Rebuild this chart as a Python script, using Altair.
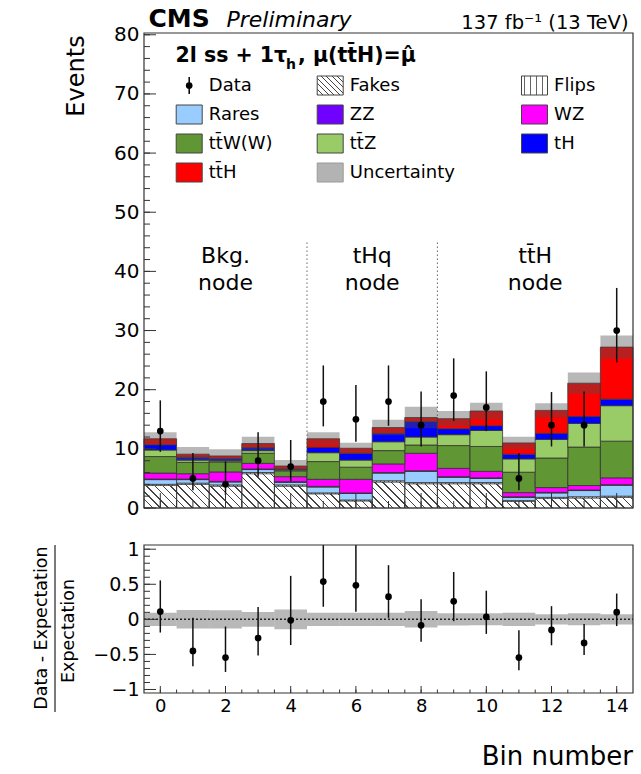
import altair as alt
import numpy as np
import pandas as pd

FONT = "DejaVu Sans"

# ---------------- bin contents (events) ----------------
bins = list(range(15))

fakes = [3.8, 4.0, 3.7, 5.8, 3.7, 2.4, 1.2, 4.4, 4.1, 4.1, 4.1, 1.1, 1.6, 1.7, 1.8]
flips = [0.2, 0.2, 0.2, 0.2, 0.2, 0.15, 0.15, 0.2, 0.2, 0.2, 0.2, 0.15, 0.2, 0.2, 0.2]
rares = [0.8, 0.6, 0.5, 0.5, 0.45, 1.0, 1.1, 1.3, 1.9, 0.9, 0.7, 0.55, 0.75, 1.05, 1.85]
zz = [0.1, 0.1, 0.1, 0.1, 0.1, 0.1, 0.1, 0.1, 0.1, 0.1, 0.1, 0.1, 0.1, 0.1, 0.1]
wz = [1.0, 0.9, 1.6, 0.95, 0.85, 1.2, 2.3, 1.45, 2.95, 1.4, 1.1, 0.7, 0.8, 0.75, 1.15]
ttw = [2.8, 1.9, 1.7, 1.7, 1.0, 3.0, 2.05, 2.25, 1.4, 3.85, 4.2, 3.45, 5.0, 6.5, 6.2]
ttz = [1.1, 0.4, 0.2, 0.45, 0.15, 1.5, 1.2, 1.5, 1.35, 1.85, 2.7, 2.25, 3.15, 4.0, 6.0]
th = [0.9, 0.5, 0.35, 0.5, 0.15, 0.9, 1.15, 1.4, 2.6, 1.0, 0.8, 0.8, 1.0, 1.15, 1.1]
tth = [1.0, 0.5, 0.45, 0.7, 0.5, 1.45, 0.85, 1.0, 0.7, 1.7, 2.5, 1.9, 3.9, 5.65, 8.8]
unc = [1.1, 1.2, 1.15, 1.15, 1.0, 1.1, 0.95, 1.3, 1.8, 1.3, 1.4, 1.05, 1.2, 1.8, 1.95]

data = [13, 5, 4, 8, 7, 18, 15, 18, 14, 19, 17, 5, 14, 14, 30]
data_lo = [9.5, 3.0, 2.2, 5.3, 4.5, 13.8, 11.2, 13.9, 10.4, 14.7, 13.0, 3.0, 10.4, 10.4, 24.6]
data_hi = [18.2, 9.3, 7.9, 12.8, 11.5, 24.1, 20.8, 24.1, 19.7, 25.3, 23.1, 9.3, 19.6, 19.7, 37.2]

node_labels = [["Bkg.", "node"], ["tHq", "node"], ["tt\u0304H", "node"]]
node_sizes = [5, 4, 6]

legend_labels = ["Data", "Fakes", "Flips", "Rares", "ZZ", "WZ",
                 "tt\u0304W(W)", "tt\u0304Z", "tH", "tt\u0304H", "Uncertainty"]
proc_labels = legend_labels[3:10]
proc_colors = ["#99ccff", "#7000ff", "#ff00ff", "#609634", "#99cc66", "#0000ff", "#ff0000"]
unc_color = "#b3b3b3"

# axis tick positions
main_y_major = list(range(0, 81, 10))
main_y_minor = list(range(0, 81, 2))
x_major = list(range(0, 15, 2))
x_minor = [i * 0.5 for i in range(29)]
ratio_y_major = [-1, -0.5, 0, 0.5, 1]
ratio_y_minor = [round(-1 + 0.1 * i, 2) for i in range(21)]

# ---------------- geometry ----------------
W, H, H2 = 489, 475, 148
PL, PT = 143.5, 33
YMAX = 80.3
RLO, RHI = -1.05, 1.06
PXU = H / YMAX
LINE = "#333333"


def stripes(w, h, spacing, frac, ink, vertical=False):
    """Linear gradient with hard stops that renders as a line hatch."""
    if vertical:
        x1, y1, x2, y2 = 0, 0, 1, 0
        n = w / spacing
    else:
        r = h / w
        k = (1 + r) / (1 + r * r)
        x1, y1, x2, y2 = 0, 1, k, 1 - k * r
        n = (w + h) / spacing
    p = 1.0 / n
    stops = []
    a = 0.0
    while a < 1 - 1e-9:
        b = min(a + frac * p, 1.0)
        c = min(a + p, 1.0)
        stops += [{"offset": round(a, 5), "color": ink},
                  {"offset": round(b, 5), "color": ink},
                  {"offset": round(b, 5), "color": "#ffffff"},
                  {"offset": round(c, 5), "color": "#ffffff"}]
        a += p
    return {"gradient": "linear", "x1": x1, "y1": y1, "x2": x2, "y2": y2, "stops": stops}


def xticks_in(values, length, scale, h):
    """Tick marks on the bottom edge, pointing into the frame."""
    df = pd.DataFrame(dict(v=values))
    return alt.Chart(df).mark_rule(color=LINE, strokeWidth=1).encode(
        x=alt.X("v:Q", scale=scale, axis=None),
        y=alt.value(h), y2=alt.value(h - length))


def yticks_in(values, length, scale):
    """Tick marks on the left edge, pointing into the frame."""
    df = pd.DataFrame(dict(v=values))
    return alt.Chart(df).mark_rule(color=LINE, strokeWidth=1).encode(
        y=alt.Y("v:Q", scale=scale, axis=None),
        x=alt.value(0), x2=alt.value(length))


# ---------------- tables ----------------
comp_names = ["Fakes", "Flips"] + proc_labels
arr = np.array([fakes, flips, rares, zz, wz, ttw, ttz, th, tth])
top = np.cumsum(arr, axis=0)
low = top - arr
rows = []
for i, name in enumerate(comp_names):
    for b in bins:
        rows.append(dict(proc=name, x0=b - 0.5, x1=b + 0.5, low=low[i, b], high=top[i, b]))
stack = pd.DataFrame(rows)
total = top[-1]

bd = pd.DataFrame(dict(bin=bins, data=data, lo=data_lo, hi=data_hi, total=total, unc=unc))
bd["x0"] = bd["bin"] - 0.5
bd["x1"] = bd["bin"] + 0.5
bd["blo"] = bd["total"] - bd["unc"]
bd["bhi"] = bd["total"] + bd["unc"]
bd["r"] = bd["data"] / bd["total"] - 1
bd["rlo"] = bd["lo"] / bd["total"] - 1
bd["rhi"] = bd["hi"] / bd["total"] - 1
bd["rb"] = bd["unc"] / bd["total"]
bd["rbn"] = -bd["rb"]

edges = np.cumsum(node_sizes)[:-1] - 0.5
sep = pd.DataFrame(dict(x=edges, y0=0, y1=45))
starts = np.concatenate([[0], np.cumsum(node_sizes)[:-1]])
centers = starts + (np.array(node_sizes) - 1) / 2
node_rows = []
for c, lines in zip(centers, node_labels):
    for j, t in enumerate(lines):
        node_rows.append(dict(x=c, y=41.5 - 4.6 * j, t=t))
nodes = pd.DataFrame(node_rows)

hatch_df = pd.DataFrame(dict(x0=[-0.5], x1=[14.5], y0=[0], y1=[max(fakes)]))
hatch_fill = stripes(W, max(fakes) * PXU, 8, 0.2, "#444444")
flips_fill = stripes(W / 15, 2, 4, 0.25, "#555555", vertical=True)

xs = alt.Scale(domain=[-0.5, 14.5], nice=False, zero=False)
ys = alt.Scale(domain=[0, YMAX], nice=False, zero=False)
rs = alt.Scale(domain=[RLO, RHI], nice=False, zero=False)

# ---------------- main panel ----------------
y_labels_main = alt.Axis(orient="left", values=main_y_major, ticks=False, domain=False,
                         grid=False, labelFont=FONT, labelFontSize=20, labelPadding=5,
                         labelColor="black", title=None)

hatch = alt.Chart(hatch_df).mark_rect(fill=hatch_fill, strokeWidth=0).encode(
    x=alt.X("x0:Q", scale=xs, axis=None), x2="x1:Q",
    y=alt.Y("y0:Q", scale=ys, axis=y_labels_main), y2="y1:Q")

seps = alt.Chart(sep).mark_rule(color="#666666", strokeWidth=1, strokeDash=[1.5, 2.5]).encode(
    x=alt.X("x:Q", scale=xs, axis=None),
    y=alt.Y("y0:Q", scale=ys, axis=None), y2="y1:Q")

fake_outline = alt.Chart(stack[stack.proc == "Fakes"]).mark_rect(
    fill="#ffffff", fillOpacity=0, stroke=LINE, strokeWidth=0.8).encode(
    x=alt.X("x0:Q", scale=xs, axis=None), x2="x1:Q",
    y=alt.Y("low:Q", scale=ys, axis=None), y2="high:Q")

flip_rects = alt.Chart(stack[stack.proc == "Flips"]).mark_rect(
    fill=flips_fill, stroke=LINE, strokeWidth=0.6).encode(
    x=alt.X("x0:Q", scale=xs, axis=None), x2="x1:Q",
    y=alt.Y("low:Q", scale=ys, axis=None), y2="high:Q")

procs = alt.Chart(stack[stack.proc.isin(proc_labels)]).mark_rect(
    stroke=LINE, strokeWidth=0.8).encode(
    x=alt.X("x0:Q", scale=xs, axis=None), x2="x1:Q",
    y=alt.Y("low:Q", scale=ys, axis=None), y2="high:Q",
    color=alt.Color("proc:N", scale=alt.Scale(domain=proc_labels, range=proc_colors), legend=None))

band = alt.Chart(bd).mark_rect(color="#4d4d4d", opacity=0.4).encode(
    x=alt.X("x0:Q", scale=xs, axis=None), x2="x1:Q",
    y=alt.Y("blo:Q", scale=ys, axis=None), y2="bhi:Q")

bars = alt.Chart(bd).mark_rule(color="#111111", strokeWidth=1.5).encode(
    x=alt.X("bin:Q", scale=xs, axis=None),
    y=alt.Y("lo:Q", scale=ys, axis=None), y2="hi:Q")

pts = alt.Chart(bd).mark_circle(color="black", size=45, opacity=1).encode(
    x=alt.X("bin:Q", scale=xs, axis=None),
    y=alt.Y("data:Q", scale=ys, axis=None))

node_text = alt.Chart(nodes).mark_text(font=FONT, fontSize=22, color="black",
                                       align="center", baseline="alphabetic").encode(
    x=alt.X("x:Q", scale=xs, axis=None),
    y=alt.Y("y:Q", scale=ys, axis=None), text="t:N")

plot_main = alt.layer(
    seps, hatch, fake_outline, flip_rects, procs, band, bars, pts, node_text,
    xticks_in(x_minor, 7, xs, H), xticks_in(x_major, 15, xs, H),
    yticks_in(main_y_minor, 6, ys), yticks_in(main_y_major, 12, ys),
).resolve_axis(x="independent", y="independent")


# ---------------- pixel-space overlays ----------------
def pix_scales(h):
    return (alt.Scale(domain=[0, W], nice=False, zero=False),
            alt.Scale(domain=[0, h], nice=False, zero=False, reverse=True))


def ptext(rows, h, **kw):
    sx, sy = pix_scales(h)
    df = pd.DataFrame(rows, columns=["x", "y", "t"])
    opts = dict(font=FONT, color="black")
    opts.update(kw)
    return alt.Chart(df).mark_text(**opts).encode(
        x=alt.X("x:Q", scale=sx, axis=None),
        y=alt.Y("y:Q", scale=sy, axis=None), text="t:N")


def prule(x, y, x2, y2, h, **kw):
    sx, sy = pix_scales(h)
    df = pd.DataFrame(dict(x=[x], y=[y], x2=[x2], y2=[y2]))
    return alt.Chart(df).mark_rule(**kw).encode(
        x=alt.X("x:Q", scale=sx, axis=None), x2="x2:Q",
        y=alt.Y("y:Q", scale=sy, axis=None), y2="y2:Q")


def pframe(h):
    sx, sy = pix_scales(h)
    df = pd.DataFrame(dict(x=[0], y=[0], x2=[W], y2=[h]))
    return alt.Chart(df).mark_rect(fill="#ffffff", fillOpacity=0, stroke=LINE,
                                   strokeWidth=1.2).encode(
        x=alt.X("x:Q", scale=sx, axis=None), x2="x2:Q",
        y=alt.Y("y:Q", scale=sy, axis=None), y2="y2:Q")


# legend grid
box_x = [32.2, 173.2, 377.5]
row_y = [52.5, 81.5, 110.5, 139.5]
BW, BH = 26, 19
leg = pd.DataFrame(dict(t=legend_labels))
leg["col"] = leg.index % 3
leg["row"] = leg.index // 3
leg["bx"] = [box_x[c] for c in leg["col"]]
leg["by"] = [row_y[r] for r in leg["row"]]
leg["bx2"] = leg["bx"] + BW
leg["by0"] = leg["by"] - BH / 2
leg["by1"] = leg["by"] + BH / 2
leg["tx"] = leg["bx"] + 32.6

sxm, sym = pix_scales(H)
solid = leg[leg.t.isin(proc_labels)]
leg_boxes = alt.Chart(solid).mark_rect(stroke="#444444", strokeWidth=1).encode(
    x=alt.X("bx:Q", scale=sxm, axis=None), x2="bx2:Q",
    y=alt.Y("by0:Q", scale=sym, axis=None), y2="by1:Q",
    color=alt.Color("t:N", scale=alt.Scale(domain=proc_labels, range=proc_colors), legend=None))
unc_box = alt.Chart(leg[leg.t == "Uncertainty"]).mark_rect(
    color=unc_color, stroke="#9a9a9a", strokeWidth=1).encode(
    x=alt.X("bx:Q", scale=sxm, axis=None), x2="bx2:Q",
    y=alt.Y("by0:Q", scale=sym, axis=None), y2="by1:Q")
fake_box = alt.Chart(leg[leg.t == "Fakes"]).mark_rect(
    fill=stripes(BW, BH, 5.5, 0.2, "#444444"), stroke="#444444", strokeWidth=1).encode(
    x=alt.X("bx:Q", scale=sxm, axis=None), x2="bx2:Q",
    y=alt.Y("by0:Q", scale=sym, axis=None), y2="by1:Q")
flip_box = alt.Chart(leg[leg.t == "Flips"]).mark_rect(
    fill=stripes(BW, BH, 3, 0.3, "#666666", vertical=True), stroke="#444444", strokeWidth=1).encode(
    x=alt.X("bx:Q", scale=sxm, axis=None), x2="bx2:Q",
    y=alt.Y("by0:Q", scale=sym, axis=None), y2="by1:Q")
dat = leg[leg.t == "Data"].copy()
dat["cx"] = dat["bx"] + BW / 2
dat["ey0"] = dat["by"] - 8.5
dat["ey1"] = dat["by"] + 8.5
dat_bar = alt.Chart(dat).mark_rule(color="black", strokeWidth=1.5).encode(
    x=alt.X("cx:Q", scale=sxm, axis=None),
    y=alt.Y("ey0:Q", scale=sym, axis=None), y2="ey1:Q")
dat_pt = alt.Chart(dat).mark_circle(color="black", size=45, opacity=1).encode(
    x=alt.X("cx:Q", scale=sxm, axis=None),
    y=alt.Y("by:Q", scale=sym, axis=None))
leg_text = alt.Chart(leg).mark_text(font=FONT, fontSize=18, color="black",
                                    align="left", baseline="middle").encode(
    x=alt.X("tx:Q", scale=sxm, axis=None),
    y=alt.Y("by:Q", scale=sym, axis=None), text="t:N")

anchor = prule(-PL, -PT, -PL + 1, -PT, H, opacity=0)

overlay_main = alt.layer(
    anchor,
    pframe(H),
    ptext([[4.5, -6, "CMS"]], H, fontSize=25, fontWeight="bold", align="left", baseline="alphabetic"),
    ptext([[82.5, -6, "Preliminary"]], H, fontSize=22, fontStyle="italic", align="left",
          baseline="alphabetic"),
    ptext([[484.5, -4, "137 fb\u207b\u00b9 (13 TeV)"]], H, fontSize=19.5, align="right",
          baseline="alphabetic"),
    ptext([[31.5, 28.7, "2l ss + 1\u03c4"]], H, fontSize=20.5, fontWeight="bold", align="left",
          baseline="alphabetic"),
    ptext([[142, 35.5, "h"]], H, fontSize=14, fontWeight="bold", align="left", baseline="alphabetic"),
    ptext([[154, 28.7, ",  \u03bc(tt\u0304H)=\u03bc\u0302"]], H, fontSize=20.5, fontWeight="bold",
          align="left", baseline="alphabetic"),
    ptext([[-67.5, 43, "Events"]], H, fontSize=24, angle=270, align="center", baseline="middle"),
    leg_boxes, unc_box, fake_box, flip_box, dat_bar, dat_pt, leg_text,
)

main = alt.layer(plot_main, overlay_main).resolve_scale(
    x="independent", y="independent").properties(width=W, height=H)

# ---------------- ratio panel ----------------
y_labels_r = alt.Axis(orient="left", values=ratio_y_major, format="~g", ticks=False,
                      domain=False, grid=False, labelFont=FONT, labelFontSize=19,
                      labelPadding=5, labelColor="black", title=None)
x_labels_r = alt.Axis(orient="bottom", values=x_major, ticks=False, domain=False,
                      grid=False, labelFont=FONT, labelFontSize=18, labelPadding=4,
                      labelColor="black", labelFlush=False, labelOverlap=False, title=None)

zero_df = pd.DataFrame(dict(x0=[-0.5], x1=[14.5], y=[0]))
r_band = alt.Chart(bd).mark_rect(color="#4d4d4d", opacity=0.4).encode(
    x=alt.X("x0:Q", scale=xs, axis=x_labels_r), x2="x1:Q",
    y=alt.Y("rbn:Q", scale=rs, axis=y_labels_r), y2="rb:Q")
r_zero = alt.Chart(zero_df).mark_rule(color="#222222", strokeWidth=1.5, strokeDash=[2, 2]).encode(
    x=alt.X("x0:Q", scale=xs, axis=None), x2="x1:Q",
    y=alt.Y("y:Q", scale=rs, axis=None))
r_bars = alt.Chart(bd).mark_rule(color="#111111", strokeWidth=1.5, clip=True).encode(
    x=alt.X("bin:Q", scale=xs, axis=None),
    y=alt.Y("rlo:Q", scale=rs, axis=None), y2="rhi:Q")
r_pts = alt.Chart(bd).mark_circle(color="black", size=45, opacity=1).encode(
    x=alt.X("bin:Q", scale=xs, axis=None),
    y=alt.Y("r:Q", scale=rs, axis=None))

plot_ratio = alt.layer(
    r_band, r_zero, r_bars, r_pts,
    xticks_in(x_minor, 3.5, xs, H2), xticks_in(x_major, 7, xs, H2),
    yticks_in(ratio_y_minor, 6, rs), yticks_in(ratio_y_major, 12, rs),
).resolve_axis(x="independent", y="independent")

overlay_ratio = alt.layer(
    pframe(H2),
    ptext([[-102, 83, "Data - Expectation"]], H2, fontSize=17.5, angle=270, align="center",
          baseline="middle"),
    ptext([[-75, 86, "Expectation"]], H2, fontSize=17.5, angle=270, align="center",
          baseline="middle"),
    prule(-89, 0, -89, 167, H2, color="#222222", strokeWidth=1.2),
    ptext([[W, 220, "Bin number"]], H2, fontSize=26, align="right", baseline="alphabetic"),
)

ratio = alt.layer(plot_ratio, overlay_ratio).resolve_scale(
    x="independent", y="independent").properties(width=W, height=H2)

chart = alt.vconcat(main, ratio, spacing=37, bounds="flush").properties(
    padding=0, background="white"
).configure_view(stroke=None)

chart.save("out.html", embed_options={"renderer": "svg", "actions": False})
